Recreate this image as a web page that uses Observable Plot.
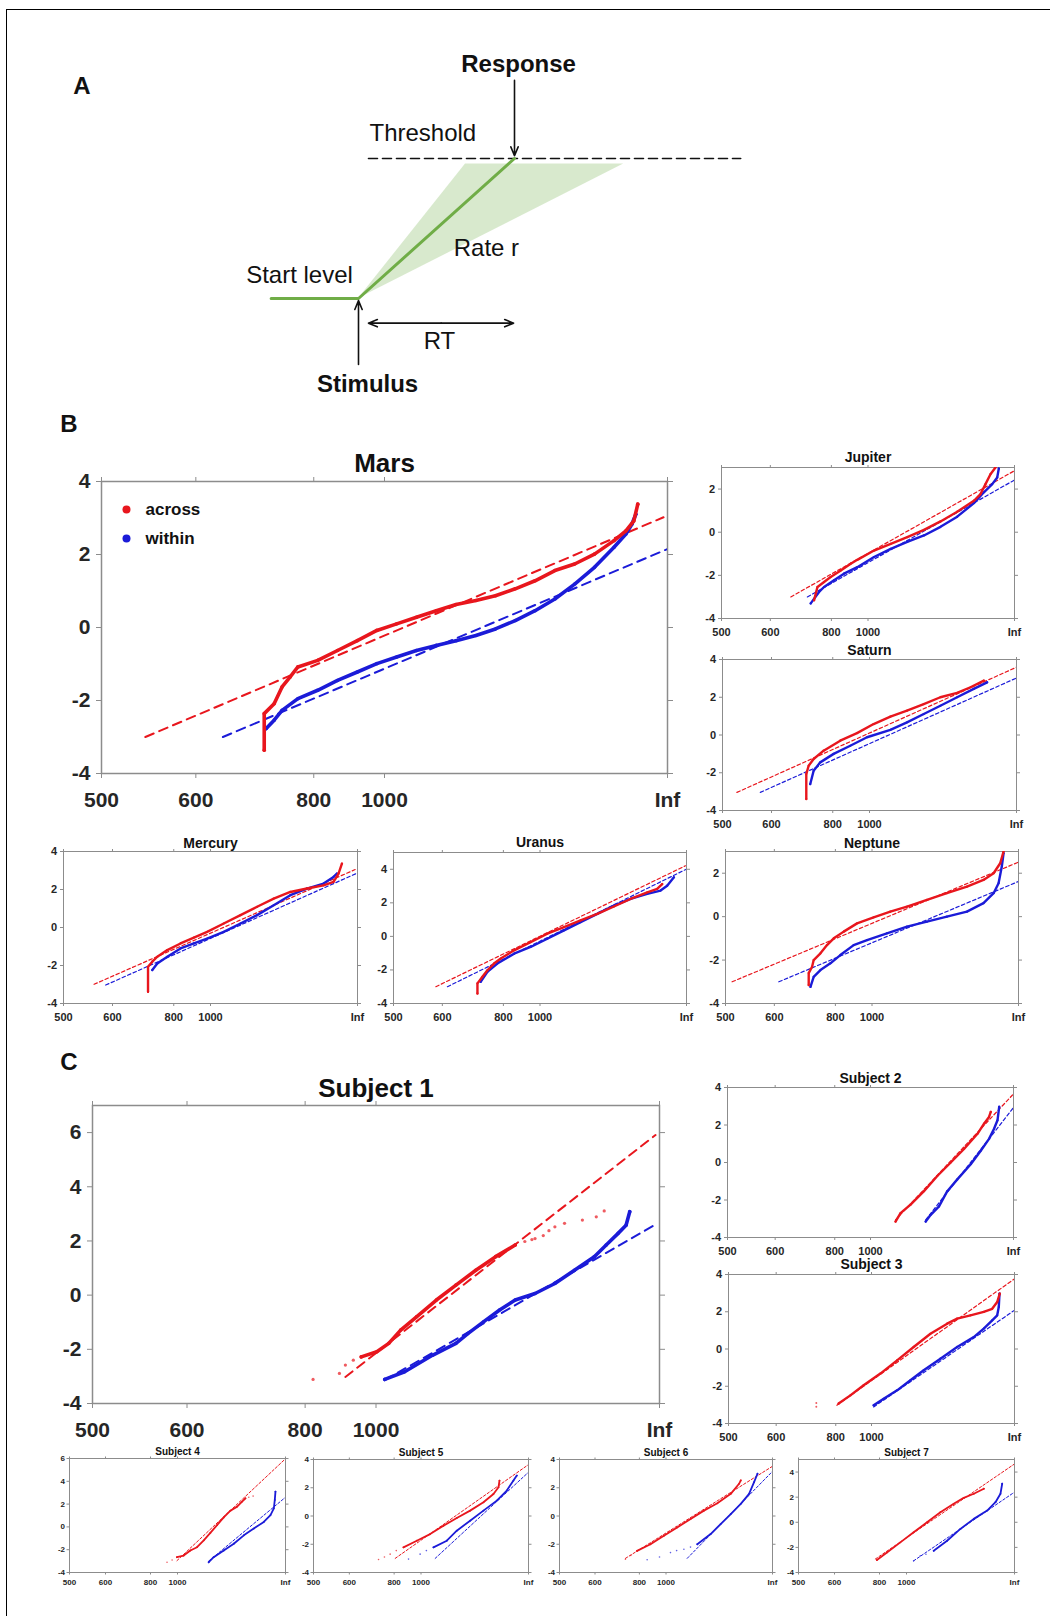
<!DOCTYPE html>
<html>
<head>
<meta charset="utf-8">
<script src="https://cdn.jsdelivr.net/npm/d3@7"></script>
<script src="https://cdn.jsdelivr.net/npm/@observablehq/plot@0.6"></script>
<style>
  html, body { margin: 0; padding: 0; background: #fff; }
  #page { position: relative; width: 1050px; height: 1616px; overflow: hidden; background: #fff;
          font-family: "Liberation Sans", Arial, Helvetica, sans-serif; }
  #border { position: absolute; left: 6px; top: 9px; width: 1200px; height: 1700px;
            border-left: 1.5px solid #000; border-top: 1.5px solid #000; }
  .letter { position: absolute; font-weight: bold; font-size: 24px; line-height: 1; color: #111;
            transform: translate(-50%, -50%); }
  .plotbox { position: absolute; }
</style>
</head>
<body>
<div id="page"><div id="border"></div></div>
<script>
// ---------------- DATA ----------------
// x values are -1000/RT (reciprocal latency); y values are probit (z) of the cumulative proportion.
const rtTicks = [500, 600, 800, 1000, Infinity];
const rtTickLabels = ["500", "600", "800", "1000", "Inf"];

// Panel A schematic (time in RT units, level in threshold units)
const accumulator = [{t: -0.56, level: 0}, {t: 0, level: 0}, {t: 1, level: 1}];
const thresholdLine = [{t: 0.064, level: 1}, {t: 2.45, level: 1}];
const rateFan = [{level: 0, tLow: 0, tHigh: 0}, {level: 0.96, tLow: 0.686, tHigh: 1.70}];
const arrowsA = [
  {t1: 1, l1: 1.558, t2: 1, l2: 1.02},
  {t1: 0, l1: -0.471, t2: 0, l2: -0.015},
  {t1: 0.53, l1: -0.176, t2: 0.994, l2: -0.176},
  {t1: 0.53, l1: -0.176, t2: 0.064, l2: -0.176}
];
const labelsBoldA = [
  {t: 1.026, level: 1.672, text: "Response"},
  {t: 0.058, level: -0.612, text: "Stimulus"}
];
const labelsStartA = [
  {t: 0.0705, level: 1.18, text: "Threshold"}
];
const labelsA = [
  {t: 0.82, level: 0.362, text: "Rate r"},
  {t: -0.378, level: 0.163, text: "Start level"},
  {t: 0.519, level: -0.304, text: "RT"}
];

// Panel B
const mars_across = [[-1.425,-3.36],[-1.425,-2.36],[-1.39,-2.09],[-1.362,-1.63],[-1.334,-1.36],[-1.306,-1.08],[-1.236,-0.9],[-1.166,-0.63],[-1.096,-0.36],[-1.027,-0.08],[-0.957,0.1],[-0.887,0.28],[-0.817,0.46],[-0.747,0.63],[-0.677,0.74],[-0.608,0.87],[-0.538,1.06],[-0.468,1.28],[-0.398,1.56],[-0.328,1.74],[-0.258,2.01],[-0.189,2.38],[-0.147,2.65],[-0.119,2.92],[-0.105,3.38]];
const mars_within = [[-1.418,-2.77],[-1.39,-2.54],[-1.362,-2.27],[-1.306,-1.95],[-1.236,-1.72],[-1.166,-1.45],[-1.096,-1.22],[-1.027,-0.99],[-0.957,-0.81],[-0.887,-0.63],[-0.817,-0.49],[-0.747,-0.36],[-0.677,-0.22],[-0.608,-0.04],[-0.538,0.19],[-0.468,0.46],[-0.398,0.78],[-0.328,1.19],[-0.258,1.65],[-0.189,2.2],[-0.147,2.56],[-0.126,2.83],[-0.112,3.1]];
const mars_fitAcross = [[-1.845,-3.0],[-0.014,3.02]];
const mars_fitWithin = [[-1.571,-3.0],[0,2.15]];

const jupiter_across = [[-1.368,-3.15],[-1.345,-2.54],[-1.3,-2.31],[-1.255,-2.08],[-1.186,-1.77],[-1.118,-1.46],[-1.073,-1.28],[-0.959,-0.85],[-0.845,-0.54],[-0.732,-0.23],[-0.618,0.11],[-0.505,0.5],[-0.391,0.95],[-0.277,1.46],[-0.232,1.77],[-0.198,2.23],[-0.164,2.69],[-0.13,3.0]];
const jupiter_within = [[-1.391,-3.3],[-1.334,-2.77],[-1.3,-2.54],[-1.232,-2.23],[-1.164,-1.92],[-1.073,-1.62],[-0.959,-1.15],[-0.845,-0.77],[-0.732,-0.45],[-0.618,-0.15],[-0.505,0.25],[-0.391,0.72],[-0.277,1.35],[-0.209,1.85],[-0.152,2.23],[-0.118,2.54],[-0.107,2.95]];
const jupiter_fitAcross = [[-1.527,-3.0],[0,2.85]];
const jupiter_fitWithin = [[-1.414,-3.0],[0,2.42]];

const saturn_across = [[-1.43,-3.39],[-1.43,-2.07],[-1.414,-1.63],[-1.38,-1.27],[-1.312,-0.83],[-1.199,-0.3],[-1.085,0.1],[-0.972,0.58],[-0.858,0.97],[-0.745,1.29],[-0.631,1.64],[-0.518,2.0],[-0.404,2.23],[-0.313,2.53],[-0.222,2.88]];
const saturn_within = [[-1.403,-2.6],[-1.38,-1.89],[-1.335,-1.45],[-1.244,-1.0],[-1.131,-0.57],[-1.017,-0.12],[-0.858,0.27],[-0.745,0.67],[-0.631,1.11],[-0.518,1.55],[-0.404,2.0],[-0.291,2.44],[-0.2,2.79]];
const saturn_fitAcross = [[-1.902,-3.04],[0,3.59]];
const saturn_fitWithin = [[-1.743,-3.04],[0,3.02]];

const mercury_across = [[-1.425,-3.38],[-1.425,-2.07],[-1.396,-1.8],[-1.362,-1.54],[-1.294,-1.19],[-1.204,-0.84],[-1.113,-0.53],[-1.023,-0.23],[-0.91,0.21],[-0.796,0.65],[-0.683,1.09],[-0.57,1.52],[-0.457,1.87],[-0.344,2.05],[-0.231,2.22],[-0.163,2.4],[-0.129,2.84],[-0.106,3.36]];
const mercury_within = [[-1.396,-2.24],[-1.362,-1.89],[-1.294,-1.54],[-1.204,-1.1],[-1.113,-0.84],[-1.023,-0.58],[-0.91,-0.23],[-0.796,0.21],[-0.683,0.65],[-0.57,1.17],[-0.457,1.7],[-0.344,2.05],[-0.231,2.31],[-0.163,2.66],[-0.14,2.84]];
const mercury_fitAcross = [[-1.792,-2.99],[-0.016,3.05]];
const mercury_fitWithin = [[-1.713,-3.03],[0,2.87]];

const uranus_across = [[-1.427,-3.4],[-1.427,-2.8],[-1.393,-2.41],[-1.359,-2.02],[-1.314,-1.62],[-1.268,-1.32],[-1.177,-0.83],[-1.064,-0.34],[-0.95,0.16],[-0.836,0.55],[-0.723,0.95],[-0.609,1.34],[-0.495,1.78],[-0.382,2.23],[-0.268,2.63],[-0.2,2.83],[-0.166,3.12]];
const uranus_within = [[-1.405,-2.71],[-1.359,-2.11],[-1.291,-1.62],[-1.177,-1.03],[-1.064,-0.63],[-0.95,-0.14],[-0.836,0.36],[-0.723,0.85],[-0.609,1.34],[-0.495,1.84],[-0.382,2.23],[-0.268,2.53],[-0.177,2.73],[-0.132,3.02],[-0.086,3.52]];
const uranus_fitAcross = [[-1.711,-3.0],[-0.007,4.21]];
const uranus_fitWithin = [[-1.632,-3.0],[0,4.01]];

const neptune_across = [[-1.432,-3.15],[-1.432,-2.6],[-1.409,-2.31],[-1.398,-2.0],[-1.352,-1.69],[-1.307,-1.31],[-1.261,-1.0],[-1.193,-0.69],[-1.102,-0.31],[-0.989,-0.03],[-0.875,0.23],[-0.761,0.46],[-0.625,0.77],[-0.489,1.08],[-0.352,1.38],[-0.239,1.69],[-0.17,2.0],[-0.125,2.46],[-0.102,3.0]];
const neptune_within = [[-1.42,-3.23],[-1.398,-2.77],[-1.352,-2.46],[-1.284,-2.15],[-1.216,-1.77],[-1.125,-1.31],[-1.034,-1.08],[-0.898,-0.77],[-0.761,-0.46],[-0.625,-0.23],[-0.489,0.0],[-0.352,0.23],[-0.239,0.62],[-0.17,1.08],[-0.136,1.54],[-0.114,2.31],[-0.102,2.92]];
const neptune_fitAcross = [[-1.955,-3.0],[0,2.51]];
const neptune_fitWithin = [[-1.636,-3.0],[0,1.62]];

// Panel C  (…Sparse arrays: isolated points drawn without a connecting line)
const s1_across = [[-1.052,-2.28],[-0.997,-2.09],[-0.955,-1.78],[-0.913,-1.29],[-0.857,-0.8],[-0.787,-0.18],[-0.718,0.37],[-0.648,0.92],[-0.578,1.42],[-0.509,1.85]];
const s1_acrossSparse = [[-1.222,-3.11],[-1.129,-2.89],[-1.108,-2.58],[-1.08,-2.4],[-0.475,1.98],[-0.45,2.05],[-0.439,2.09],[-0.41,2.2],[-0.39,2.38],[-0.369,2.52],[-0.335,2.65],[-0.272,2.77],[-0.223,2.89],[-0.195,3.11]];
const s1_within = [[-0.969,-3.11],[-0.899,-2.83],[-0.801,-2.22],[-0.718,-1.78],[-0.676,-1.42],[-0.62,-0.98],[-0.564,-0.55],[-0.509,-0.18],[-0.439,0.06],[-0.369,0.43],[-0.3,0.92],[-0.23,1.42],[-0.188,1.85],[-0.146,2.28],[-0.118,2.58],[-0.105,3.08]];
const s1_fitAcross = [[-1.108,-3.02],[-0.014,5.91]];
const s1_fitWithin = [[-0.969,-3.14],[-0.007,2.65]];

const s2_across = [[-0.825,-3.15],[-0.79,-2.7],[-0.72,-2.25],[-0.626,-1.53],[-0.533,-0.72],[-0.439,0.0],[-0.346,0.72],[-0.252,1.53],[-0.206,2.07],[-0.171,2.43],[-0.159,2.7]];
const s2_within = [[-0.614,-3.15],[-0.579,-2.79],[-0.521,-2.34],[-0.463,-1.53],[-0.393,-0.9],[-0.299,-0.09],[-0.229,0.63],[-0.171,1.26],[-0.136,1.8],[-0.112,2.25],[-0.1,2.97]];
const s2_fitAcross = [[-0.825,-3.06],[-0.007,3.6]];
const s2_fitWithin = [[-0.614,-3.06],[0,2.93]];

const s3_across = [[-1.23,-2.93],[-1.148,-2.49],[-1.055,-1.95],[-0.938,-1.32],[-0.821,-0.61],[-0.705,0.11],[-0.588,0.82],[-0.471,1.36],[-0.401,1.63],[-0.308,1.81],[-0.215,1.99],[-0.156,2.16],[-0.121,2.52],[-0.103,2.97]];
const s3_acrossSparse = [[-1.386,-3.1],[-1.386,-2.9]];
const s3_within = [[-0.985,-3.02],[-0.915,-2.67],[-0.821,-2.22],[-0.728,-1.68],[-0.635,-1.14],[-0.518,-0.52],[-0.401,0.11],[-0.285,0.64],[-0.215,1.09],[-0.156,1.54],[-0.121,1.81],[-0.11,2.25],[-0.105,2.97]];
const s3_fitAcross = [[-1.242,-3.02],[0,3.77]];
const s3_fitWithin = [[-0.985,-3.11],[0,2.08]];

const s4_across = [[-1.005,-2.66],[-0.943,-2.51],[-0.881,-2.07],[-0.819,-1.78],[-0.757,-1.18],[-0.696,-0.53],[-0.634,0.15],[-0.572,0.83],[-0.51,1.42],[-0.448,1.78],[-0.402,2.22],[-0.371,2.51]];
const s4_acrossSparse = [[-1.097,-3.1],[-1.05,-2.9],[-0.34,2.6],[-0.3,2.7]];
const s4_within = [[-0.711,-3.1],[-0.665,-2.66],[-0.572,-2.07],[-0.479,-1.48],[-0.386,-0.74],[-0.294,-0.15],[-0.201,0.44],[-0.139,1.04],[-0.108,1.63],[-0.099,2.37],[-0.093,3.1]];
const s4_fitAcross = [[-1.005,-2.96],[0,5.98]];
const s4_fitWithin = [[-0.711,-3.0],[0,2.6]];

const s5_across = [[-1.163,-2.22],[-1.039,-1.75],[-0.915,-1.28],[-0.791,-0.69],[-0.667,-0.14],[-0.543,0.38],[-0.419,0.97],[-0.326,1.56],[-0.279,2.04],[-0.27,2.51]];
const s5_acrossSparse = [[-1.395,-3.08],[-1.34,-2.9],[-1.287,-2.7],[-1.23,-2.45]];
const s5_within = [[-0.884,-2.22],[-0.76,-1.75],[-0.667,-1.04],[-0.543,-0.33],[-0.419,0.38],[-0.295,1.09],[-0.202,1.8],[-0.14,2.51],[-0.109,2.86]];
const s5_withinSparse = [[-1.116,-3.05],[-1.008,-2.7],[-0.95,-2.45]];
const s5_fitAcross = [[-1.24,-3.0],[0,3.64]];
const s5_fitWithin = [[-0.868,-3.0],[0,3.1]];

const s6_across = [[-1.272,-2.47],[-1.146,-2.0],[-1.02,-1.4],[-0.895,-0.81],[-0.769,-0.21],[-0.644,0.38],[-0.518,0.9],[-0.392,1.57],[-0.314,2.28],[-0.298,2.52]];
const s6_acrossSparse = [[-1.381,-3.06],[-1.33,-2.8]];
const s6_within = [[-0.706,-2.0],[-0.581,-1.28],[-0.487,-0.57],[-0.392,0.14],[-0.298,0.86],[-0.22,1.57],[-0.173,2.4],[-0.141,2.99]];
const s6_withinSparse = [[-1.177,-3.1],[-1.061,-2.9],[-0.958,-2.59],[-0.9,-2.45],[-0.832,-2.35],[-0.77,-2.2]];
const s6_fitAcross = [[-1.381,-3.0],[0,3.52]];
const s6_fitWithin = [[-0.801,-3.0],[0,3.16]];

const s7_across = [[-1.274,-3.01],[-1.181,-2.4],[-1.057,-1.6],[-0.934,-0.8],[-0.81,0.0],[-0.686,0.8],[-0.563,1.47],[-0.47,1.95],[-0.377,2.27],[-0.284,2.67]];
const s7_within = [[-0.748,-2.27],[-0.624,-1.47],[-0.501,-0.53],[-0.377,0.27],[-0.253,0.93],[-0.176,1.6],[-0.13,2.27],[-0.114,3.07]];
const s7_withinSparse = [[-0.934,-3.07],[-0.872,-2.67],[-0.82,-2.55]];
const s7_fitAcross = [[-1.289,-2.93],[-0.006,4.61]];
const s7_fitWithin = [[-0.934,-3.07],[0,2.4]];

const legendLabels = ["across", "within"];

// ---------------- STYLE / LAYOUT ----------------
const FONT = '"Liberation Sans", Arial, Helvetica, sans-serif';
const RED = "#e8161d", BLUE = "#1b1bd8", GREEN = "#70ad47";
const LABEL = "#262626", FRAME = "#8c8c8c";

const SIZES = {
  L: {font: 21, title: 26, tick: 5, xPad: 14, yPad: 6, frameW: 1.5, fitW: 2, fitDash: "9,6", lineW: 3.6, dotR: 1.8, mL: 60, mR: 30, mT: 45, mB: 45},
  M: {font: 11, title: 14, tick: 3, xPad: 6.5, yPad: 3.5, frameW: 1, fitW: 1.2, fitDash: "3.5,2.5", lineW: 2.4, dotR: 1.1, mL: 32, mR: 20, mT: 22, mB: 24},
  S: {font: 8, title: 10, tick: 2.5, xPad: 4.5, yPad: 2, frameW: 1, fitW: 1, fitDash: "2.5,2", lineW: 1.8, dotR: 0.9, mL: 24, mR: 14, mT: 16, mB: 18}
};

const panels = [
  {title: "Mars", size: "L", box: [101, 481, 667, 773], y: [-4, 4], gap: 18, across: mars_across, within: mars_within, fitA: mars_fitAcross, fitW: mars_fitWithin, legend: true},
  {title: "Jupiter", size: "M", box: [721, 467, 1014, 618], y: [-4, 3], gap: 9.7, across: jupiter_across, within: jupiter_within, fitA: jupiter_fitAcross, fitW: jupiter_fitWithin},
  {title: "Saturn", size: "M", box: [722, 659, 1016, 810], y: [-4, 4], gap: 9, across: saturn_across, within: saturn_within, fitA: saturn_fitAcross, fitW: saturn_fitWithin},
  {title: "Mercury", size: "M", box: [63, 851, 357, 1003], y: [-4, 4], gap: 8.3, across: mercury_across, within: mercury_within, fitA: mercury_fitAcross, fitW: mercury_fitWithin},
  {title: "Uranus", size: "M", box: [393, 852, 686, 1003], y: [-4, 5], gap: 9.7, across: uranus_across, within: uranus_within, fitA: uranus_fitAcross, fitW: uranus_fitWithin},
  {title: "Neptune", size: "M", box: [725, 851, 1018, 1003], y: [-4, 3], gap: 8.4, across: neptune_across, within: neptune_within, fitA: neptune_fitAcross, fitW: neptune_fitWithin},
  {title: "Subject 1", size: "L", box: [92, 1105, 659, 1403], y: [-4, 7], gap: 17, across: s1_across, acrossSparse: s1_acrossSparse, within: s1_within, fitA: s1_fitAcross, fitW: s1_fitWithin},
  {title: "Subject 2", size: "M", box: [727, 1087, 1013, 1237], y: [-4, 4], gap: 8.7, across: s2_across, within: s2_within, fitA: s2_fitAcross, fitW: s2_fitWithin},
  {title: "Subject 3", size: "M", box: [728, 1274, 1014, 1423], y: [-4, 4], gap: 10.3, across: s3_across, acrossSparse: s3_acrossSparse, within: s3_within, fitA: s3_fitAcross, fitW: s3_fitWithin},
  {title: "Subject 4", size: "S", box: [69, 1458, 285, 1572], y: [-4, 6], gap: 6.6, across: s4_across, acrossSparse: s4_acrossSparse, within: s4_within, fitA: s4_fitAcross, fitW: s4_fitWithin},
  {title: "Subject 5", size: "S", box: [313, 1459, 528, 1572], y: [-4, 4], gap: 7, across: s5_across, acrossSparse: s5_acrossSparse, within: s5_within, withinSparse: s5_withinSparse, fitA: s5_fitAcross, fitW: s5_fitWithin},
  {title: "Subject 6", size: "S", box: [559, 1459, 772, 1572], y: [-4, 4], gap: 7, across: s6_across, acrossSparse: s6_acrossSparse, within: s6_within, withinSparse: s6_withinSparse, fitA: s6_fitAcross, fitW: s6_fitWithin},
  {title: "Subject 7", size: "S", box: [798, 1459, 1014, 1572], y: [-4, 5], gap: 7, across: s7_across, within: s7_within, withinSparse: s7_withinSparse, fitA: s7_fitAcross, fitW: s7_fitWithin}
];

const page = document.getElementById("page");

// Panel letters
[["A", 82, 86], ["B", 69, 424], ["C", 69, 1062]].forEach(([t, x, y]) => {
  const d = document.createElement("div");
  d.className = "letter"; d.textContent = t;
  d.style.left = x + "px"; d.style.top = y + "px";
  page.appendChild(d);
});

// ---------------- PANEL A ----------------
const plotA = Plot.plot({
  width: 1050, height: 400, margin: 0,
  x: {domain: [0, 1], range: [358, 514], axis: null},
  y: {domain: [0, 1], range: [298, 158], axis: null},
  style: {background: "transparent", fontFamily: FONT, overflow: "visible"},
  marks: [
    Plot.areaX(rateFan, {y: "level", x1: "tLow", x2: "tHigh", fill: GREEN, fillOpacity: 0.27}),
    Plot.line(thresholdLine, {x: "t", y: "level", stroke: "#111", strokeWidth: 1.6, strokeDasharray: "9,5"}),
    Plot.line(accumulator, {x: "t", y: "level", stroke: GREEN, strokeWidth: 3}),
    Plot.arrow(arrowsA, {x1: "t1", y1: "l1", x2: "t2", y2: "l2", stroke: "#111", strokeWidth: 1.6, headLength: 9, headAngle: 45}),
    Plot.text(labelsBoldA, {x: "t", y: "level", text: "text", fontSize: 24, fontWeight: "bold", fill: "#111"}),
    Plot.text(labelsStartA, {x: "t", y: "level", text: "text", textAnchor: "start", fontSize: 24, fill: "#111"}),
    Plot.text(labelsA, {x: "t", y: "level", text: "text", textAnchor: "middle", fontSize: 24, fill: "#111"})
  ]
});
plotA.classList.add("plotbox");
plotA.style.left = "0px"; plotA.style.top = "0px";
page.appendChild(plotA);

// ---------------- RECIPROBIT PANELS ----------------
const xTickPos = rtTicks.map(rt => -1000 / rt);
const fmtRT = d => {
  const i = xTickPos.findIndex(p => Math.abs(p - d) < 1e-9);
  return i >= 0 ? rtTickLabels[i] : "";
};
const px = d => d[0], py = d => d[1];

panels.forEach(p => {
  const s = SIZES[p.size];
  const [x0, y0, x1, y1] = p.box;
  const W = x1 - x0, H = y1 - y0;
  const yTicks = d3.range(p.y[0], p.y[1] + 1e-9, 2);
  const marks = [
    Plot.frame({stroke: FRAME, strokeWidth: s.frameW}),
    Plot.axisX({anchor: "bottom", ticks: xTickPos, tickFormat: fmtRT, tickSize: s.tick, tickPadding: s.xPad, stroke: FRAME, fill: LABEL, label: null}),
    Plot.axisX({anchor: "top", ticks: xTickPos, tickFormat: () => "", tickSize: s.tick, stroke: FRAME, label: null}),
    Plot.axisY({anchor: "left", ticks: yTicks, tickFormat: d => String(d), tickSize: s.tick, tickPadding: s.yPad, stroke: FRAME, fill: LABEL, label: null}),
    Plot.axisY({anchor: "right", ticks: yTicks, tickFormat: () => "", tickSize: s.tick, stroke: FRAME, label: null}),
    Plot.line(p.fitA, {x: px, y: py, stroke: RED, strokeWidth: s.fitW, strokeDasharray: s.fitDash, clip: true}),
    Plot.line(p.fitW, {x: px, y: py, stroke: BLUE, strokeWidth: s.fitW, strokeDasharray: s.fitDash, clip: true}),
    Plot.line(p.within, {x: px, y: py, stroke: BLUE, strokeWidth: s.lineW, clip: true}),
    Plot.dot(p.within, {x: px, y: py, r: s.dotR, fill: BLUE, clip: true}),
    Plot.dot(p.withinSparse || [], {x: px, y: py, r: s.dotR * 0.9, fill: BLUE, fillOpacity: 0.7, clip: true}),
    Plot.line(p.across, {x: px, y: py, stroke: RED, strokeWidth: s.lineW, clip: true}),
    Plot.dot(p.across, {x: px, y: py, r: s.dotR, fill: RED, clip: true}),
    Plot.dot(p.acrossSparse || [], {x: px, y: py, r: s.dotR * 0.9, fill: RED, fillOpacity: 0.7, clip: true}),
    Plot.text([p.title], {text: d => d, frameAnchor: "top", lineAnchor: "middle", dy: -p.gap, fontSize: s.title, fontWeight: "bold", fill: "#111"})
  ];
  if (p.legend) {
    marks.push(
      Plot.dot([legendLabels[0]], {frameAnchor: "top-left", dx: 25, dy: 28, r: 4, fill: RED}),
      Plot.dot([legendLabels[1]], {frameAnchor: "top-left", dx: 25, dy: 57, r: 4, fill: BLUE}),
      Plot.text([legendLabels[0]], {text: d => d, frameAnchor: "top-left", lineAnchor: "middle", dx: 44, dy: 28, textAnchor: "start", fontSize: 17, fontWeight: "bold", fill: "#111"}),
      Plot.text([legendLabels[1]], {text: d => d, frameAnchor: "top-left", lineAnchor: "middle", dx: 44, dy: 57, textAnchor: "start", fontSize: 17, fontWeight: "bold", fill: "#111"})
    );
  }
  const chart = Plot.plot({
    width: W + s.mL + s.mR, height: H + s.mT + s.mB,
    marginLeft: s.mL, marginRight: s.mR, marginTop: s.mT, marginBottom: s.mB,
    x: {type: "linear", domain: [-2, 0]},
    y: {type: "linear", domain: p.y},
    style: {background: "transparent", fontFamily: FONT, fontSize: s.font + "px", fontWeight: "bold", color: LABEL, overflow: "visible"},
    marks
  });
  chart.classList.add("plotbox");
  chart.style.left = (x0 - s.mL) + "px";
  chart.style.top = (y0 - s.mT) + "px";
  chart.style.maxWidth = "none";
  page.appendChild(chart);
});
</script>
</body>
</html>
